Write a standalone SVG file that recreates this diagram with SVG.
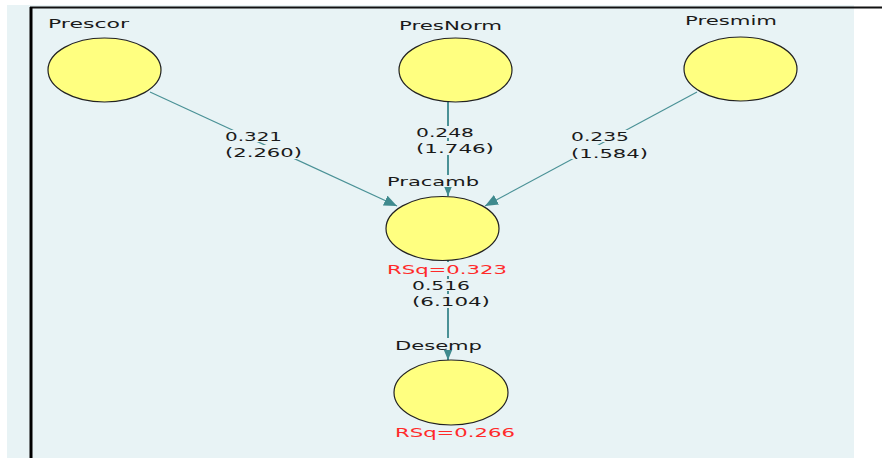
<svg xmlns="http://www.w3.org/2000/svg" width="882" height="458" viewBox="0 0 882 458">
<defs>
<marker id="ah" viewBox="0 0 12 10" refX="12" refY="5" markerWidth="13" markerHeight="11" markerUnits="userSpaceOnUse" orient="auto">
<path d="M0,0 L12,5 L0,10 Z" fill="#3f8a8e"/>
</marker>
<style>
.node ellipse{fill:#ffff80;stroke:#222;stroke-width:1.2}
.lbl{font-family:"DejaVu Sans",sans-serif;font-size:13px;fill:#1a1a1a}
.rsq{font-family:"DejaVu Sans",sans-serif;font-size:13px;fill:#ff2a2a}
.edge{stroke:#4a9196;fill:none}
.bg{fill:#e8f3f5}
</style>
</defs>
<rect x="0" y="0" width="882" height="458" fill="#ffffff"/>
<rect x="7" y="5" width="847" height="453" fill="#e8f3f5"/>
<line x1="30" y1="7.5" x2="882" y2="7.5" stroke="#111" stroke-width="2"/>
<line x1="31" y1="7" x2="31" y2="458" stroke="#000" stroke-width="3"/>

<g id="connectors">
<line class="edge" x1="150" y1="92" x2="397" y2="206" stroke-width="1.2" marker-end="url(#ah)"/>
<line class="edge" x1="448" y1="102" x2="448" y2="196" stroke-width="2" marker-end="url(#ah)"/>
<line class="edge" x1="697" y1="92" x2="485" y2="206" stroke-width="1.2" marker-end="url(#ah)"/>
<line class="edge" x1="448" y1="260" x2="448" y2="360" stroke-width="2" marker-end="url(#ah)"/>
<rect class="bg" x="223" y="130" width="82" height="12"/>
<rect class="bg" x="223" y="145" width="82" height="14"/>
<rect class="bg" x="414" y="126" width="82" height="12"/>
<rect class="bg" x="414" y="141" width="82" height="14"/>
<rect class="bg" x="569" y="130" width="82" height="12"/>
<rect class="bg" x="569" y="145" width="82" height="14"/>
<rect class="bg" x="410" y="279" width="82" height="12"/>
<rect class="bg" x="410" y="294" width="82" height="14"/>
<text class="lbl" x="225" y="141" textLength="57" lengthAdjust="spacingAndGlyphs">0.321</text>
<text class="lbl" x="225" y="157" textLength="77" lengthAdjust="spacingAndGlyphs">(2.260)</text>
<text class="lbl" x="416" y="137" textLength="58" lengthAdjust="spacingAndGlyphs">0.248</text>
<text class="lbl" x="416" y="153" textLength="78" lengthAdjust="spacingAndGlyphs">(1.746)</text>
<text class="lbl" x="571" y="141" textLength="58" lengthAdjust="spacingAndGlyphs">0.235</text>
<text class="lbl" x="571" y="158" textLength="77" lengthAdjust="spacingAndGlyphs">(1.584)</text>
<text class="lbl" x="412" y="290" textLength="58" lengthAdjust="spacingAndGlyphs">0.516</text>
<text class="lbl" x="412" y="306" textLength="78" lengthAdjust="spacingAndGlyphs">(6.104)</text>
</g>

<g id="Prescor" class="node">
<ellipse cx="104.5" cy="70" rx="56.5" ry="32"/>
<text class="lbl" x="48" y="28" textLength="81" lengthAdjust="spacingAndGlyphs">Prescor</text>
</g>
<g id="PresNorm" class="node">
<ellipse cx="455.5" cy="70" rx="56.5" ry="32"/>
<text class="lbl" x="399" y="30" textLength="103" lengthAdjust="spacingAndGlyphs">PresNorm</text>
</g>
<g id="Presmim" class="node">
<ellipse cx="740.5" cy="69" rx="56.5" ry="32"/>
<text class="lbl" x="685" y="25" textLength="92" lengthAdjust="spacingAndGlyphs">Presmim</text>
</g>
<g id="Pracamb" class="node">
<ellipse cx="442.5" cy="228.5" rx="56.5" ry="32"/>
<rect class="bg" x="385" y="175" width="97" height="12"/>
<text class="lbl" x="387" y="186" textLength="92" lengthAdjust="spacingAndGlyphs">Pracamb</text>
<rect class="bg" x="385" y="262" width="124" height="14"/>
<text class="rsq" x="387" y="274" textLength="120" lengthAdjust="spacingAndGlyphs">RSq=0.323</text>
</g>
<g id="Desemp" class="node">
<ellipse cx="451" cy="392.5" rx="57" ry="32.5"/>
<rect class="bg" x="393" y="338" width="92" height="12"/>
<text class="lbl" x="395" y="350" textLength="87" lengthAdjust="spacingAndGlyphs">Desemp</text>
<text class="rsq" x="395" y="437" textLength="120" lengthAdjust="spacingAndGlyphs">RSq=0.266</text>
</g>
</svg>
